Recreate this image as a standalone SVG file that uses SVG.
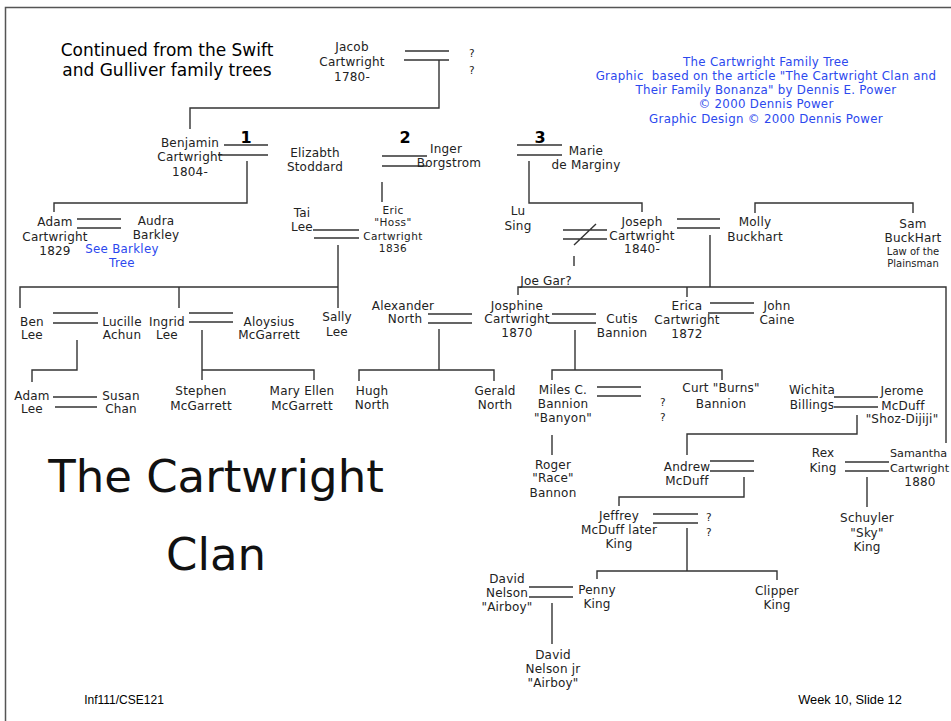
<svg xmlns="http://www.w3.org/2000/svg" width="951" height="721" viewBox="0 0 951 721">
<style>
text{font-family:"DejaVu Sans",Verdana,sans-serif;font-size:12px;letter-spacing:0.2px;fill:#222;text-anchor:middle}
.s{font-size:10.5px;letter-spacing:0.4px}
.xs{font-size:10px;letter-spacing:0}
.edge{font-size:11.2px;letter-spacing:0;text-anchor:start}
.blue{fill:#2b48ee;font-size:11.8px;letter-spacing:0.3px}
.num{font-weight:bold;font-size:16px;fill:#000;letter-spacing:0}
.big{font-size:45px;fill:#111;letter-spacing:0}
.cont{font-size:17px;fill:#000;letter-spacing:0}
.foot{font-family:"Liberation Sans",Arial,sans-serif;font-size:12px;fill:#000;letter-spacing:0}
.ln{stroke:#333;stroke-width:1.4;fill:none}
</style>
<rect width="951" height="721" fill="#fff"/>
<path d="M5.5,740 V7.5 H960" stroke="#555" stroke-width="1.5" fill="none"/>

<g id="notes">
<text class="cont" x="167" y="56">Continued from the Swift</text>
<text class="cont" x="167" y="76">and Gulliver family trees</text>
<text class="blue" x="766" y="66">The Cartwright Family Tree</text>
<text class="blue" x="766" y="80" xml:space="preserve">Graphic  based on the article "The Cartwright Clan and</text>
<text class="blue" x="766" y="94">Their Family Bonanza" by Dennis E. Power</text>
<text class="blue" x="766" y="108">© 2000 Dennis Power</text>
<text class="blue" x="766" y="123">Graphic Design © 2000 Dennis Power</text>
<text class="big" x="216" y="492">The Cartwright</text>
<text class="big" x="216" y="570">Clan</text>
<text class="foot" x="124" y="704">Inf111/CSE121</text>
<text class="foot" x="850" y="704" style="font-size:12.8px">Week 10, Slide 12</text>
<text class="num" x="246" y="143">1</text>
<text class="num" x="405" y="143">2</text>
<text class="num" x="540" y="143">3</text>
</g>

<g id="connectors" class="ln">
<path d="M405,51H449M404,60H449"/>
<path d="M439,60V108H190V129"/>
<path d="M224,145H268M218,155H268"/>
<path d="M247,161V203H54V212"/>
<path d="M77,219H121M77,228H121"/>
<path d="M382,156H427M382,166H427"/>
<path d="M382,182V202"/>
<path d="M313,230H359M314,238H359"/>
<path d="M338,245V308M20,308V287H338M179,287V308"/>
<path d="M517,145H562M517,155H562"/>
<path d="M529,161V203H642V212"/>
<path d="M563,230H607M563,239H607M574,245L596,224M574,256V266"/>
<path d="M677,219H720M677,228H720"/>
<path d="M710,235V287"/>
<path d="M518,295V287H946V443M687,287V297"/>
<path d="M755,213V203H913V213"/>
<path d="M53,313H98M53,323H98"/>
<path d="M77,340V370H32V382"/>
<path d="M189,313H233M189,322H233"/>
<path d="M202,330V380M202,370H314V380"/>
<path d="M53,397H97M55,407H97"/>
<path d="M428,314H472M428,323H472"/>
<path d="M439,329V370M359,381V370H494V381"/>
<path d="M552,314H596M548,323H596"/>
<path d="M575,330V370M552,380V370H722V380"/>
<path d="M710,303H754M708,313H754"/>
<path d="M597,387H641M597,396H641"/>
<path d="M552,435V455"/>
<path d="M834,397H878M834,407H878"/>
<path d="M857,415V434H687V455"/>
<path d="M710,461H754M710,471H754"/>
<path d="M744,477V497H619V506"/>
<path d="M845,462H889M845,471H889"/>
<path d="M867,477V507"/>
<path d="M653,514H698M653,523H698"/>
<path d="M687,528V571M597,579V571H777V580"/>
<path d="M529,587H573M529,597H573"/>
<path d="M552,603V644"/>
</g>

<g id="jacob"><text x="352" y="51">Jacob</text><text x="352" y="66">Cartwright</text><text x="352" y="81">1780-</text></g>
<g id="jacob-spouse"><text class="s" x="472" y="57">?</text><text class="s" x="472" y="74">?</text></g>
<g id="benjamin"><text x="190" y="147">Benjamin</text><text x="190" y="161">Cartwright</text><text x="190" y="176">1804-</text></g>
<g id="elizabeth"><text x="315" y="157">Elizabth</text><text x="315" y="171">Stoddard</text></g>
<g id="inger"><text x="446" y="153">Inger</text><text x="449" y="167">Borgstrom</text></g>
<g id="marie"><text x="586" y="155">Marie</text><text x="586" y="169">de Marginy</text></g>
<g id="adam"><text x="55" y="226">Adam</text><text x="55" y="241">Cartwright</text><text x="55" y="255">1829</text></g>
<g id="audra"><text x="156" y="225">Audra</text><text x="156" y="239">Barkley</text></g>
<g id="barkley-note"><text class="blue" x="122" y="253">See Barkley</text><text class="blue" x="122" y="267">Tree</text></g>
<g id="tai-lee"><text x="302" y="217">Tai</text><text x="302" y="231">Lee</text></g>
<g id="hoss"><text class="s" x="393" y="214">Eric</text><text class="s" x="393" y="226">"Hoss"</text><text class="s" x="393" y="240">Cartwright</text><text class="s" x="393" y="252">1836</text></g>
<g id="lu-sing"><text x="518" y="215">Lu</text><text x="518" y="230">Sing</text></g>
<g id="joseph"><text x="642" y="226">Joseph</text><text x="642" y="240">Cartwright</text><text x="642" y="253">1840-</text></g>
<g id="joe-gar"><text x="546" y="285">Joe Gar?</text></g>
<g id="molly"><text x="755" y="226">Molly</text><text x="755" y="241">Buckhart</text></g>
<g id="sam"><text x="913" y="228">Sam</text><text x="913" y="242">BuckHart</text><text class="xs" x="913" y="255">Law of the</text><text class="xs" x="913" y="267">Plainsman</text></g>
<g id="ben-lee"><text x="32" y="326">Ben</text><text x="32" y="339">Lee</text></g>
<g id="lucille"><text x="122" y="326">Lucille</text><text x="122" y="339">Achun</text></g>
<g id="ingrid"><text x="167" y="326">Ingrid</text><text x="167" y="339">Lee</text></g>
<g id="aloysius"><text x="269" y="326">Aloysius</text><text x="269" y="339">McGarrett</text></g>
<g id="sally"><text x="337" y="321">Sally</text><text x="337" y="336">Lee</text></g>
<g id="alexander"><text x="403" y="310">Alexander</text><text x="405" y="323">North</text></g>
<g id="josphine"><text x="517" y="310">Josphine</text><text x="517" y="323">Cartwright</text><text x="517" y="337">1870</text></g>
<g id="cutis"><text x="622" y="323">Cutis</text><text x="622" y="337">Bannion</text></g>
<g id="erica"><text x="687" y="310">Erica</text><text x="687" y="324">Cartwright</text><text x="687" y="338">1872</text></g>
<g id="john"><text x="777" y="310">John</text><text x="777" y="324">Caine</text></g>
<g id="adam-lee"><text x="32" y="400">Adam</text><text x="32" y="413">Lee</text></g>
<g id="susan"><text x="121" y="400">Susan</text><text x="121" y="413">Chan</text></g>
<g id="stephen"><text x="201" y="395">Stephen</text><text x="201" y="410">McGarrett</text></g>
<g id="mary-ellen"><text x="302" y="395">Mary Ellen</text><text x="302" y="410">McGarrett</text></g>
<g id="hugh"><text x="372" y="395">Hugh</text><text x="372" y="409">North</text></g>
<g id="gerald"><text x="495" y="395">Gerald</text><text x="495" y="409">North</text></g>
<g id="miles"><text x="563" y="394">Miles C.</text><text x="563" y="408">Bannion</text><text x="563" y="422">"Banyon"</text></g>
<g id="miles-spouse"><text class="s" x="663" y="406">?</text><text class="s" x="663" y="421">?</text></g>
<g id="curt"><text x="721" y="392">Curt "Burns"</text><text x="721" y="408">Bannion</text></g>
<g id="wichita"><text x="812" y="394">Wichita</text><text x="812" y="409">Billings</text></g>
<g id="jerome"><text x="902" y="395">Jerome</text><text x="903" y="410">McDuff</text><text x="902" y="423">"Shoz-Dijiji"</text></g>
<g id="roger"><text x="553" y="469">Roger</text><text x="553" y="482">"Race"</text><text x="553" y="497">Bannon</text></g>
<g id="andrew"><text x="687" y="471">Andrew</text><text x="687" y="485">McDuff</text></g>
<g id="rex"><text x="823" y="457">Rex</text><text x="823" y="472">King</text></g>
<g id="samantha"><text class="edge" x="890" y="457">Samantha</text><text class="edge" x="890" y="472">Cartwright</text><text x="920" y="486">1880</text></g>
<g id="schuyler"><text x="867" y="522">Schuyler</text><text x="867" y="537">"Sky"</text><text x="867" y="551">King</text></g>
<g id="jeffrey"><text x="619" y="520">Jeffrey</text><text x="619" y="534">McDuff later</text><text x="619" y="548">King</text></g>
<g id="jeffrey-spouse"><text class="s" x="709" y="521">?</text><text class="s" x="709" y="536">?</text></g>
<g id="david"><text x="507" y="583">David</text><text x="507" y="597">Nelson</text><text x="507" y="611">"Airboy"</text></g>
<g id="penny"><text x="597" y="594">Penny</text><text x="597" y="608">King</text></g>
<g id="clipper"><text x="777" y="595">Clipper</text><text x="777" y="609">King</text></g>
<g id="david-jr"><text x="553" y="659">David</text><text x="553" y="673">Nelson jr</text><text x="553" y="687">"Airboy"</text></g>
</svg>
